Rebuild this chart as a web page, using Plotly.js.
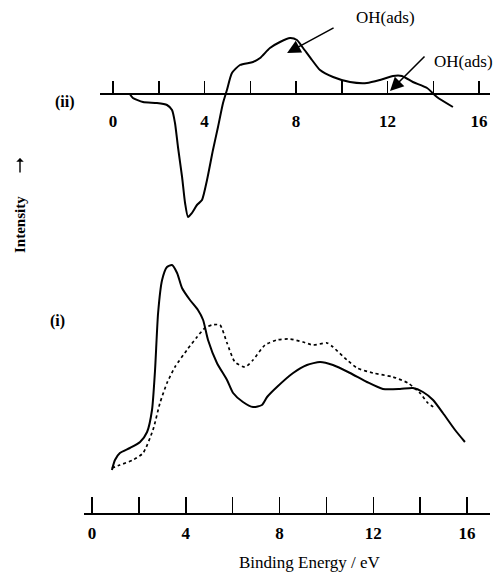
<!DOCTYPE html>
<html>
<head>
<meta charset="utf-8">
<script src="https://cdn.plot.ly/plotly-3.0.1.min.js"></script>
<style>html,body{margin:0;padding:0;background:#fff;}#chart{width:497px;height:577px;}</style>
</head>
<body>
<div id="chart"></div>
<script>
// Spectrum (ii): difference spectrum (binding energy eV, intensity arb. units)
const energyII = [0.74,0.87,1.31,1.92,2.36,2.58,2.71,2.84,3.02,3.15,3.28,3.45,3.67,3.89,4.11,4.37,4.59,4.81,4.98,5.20,5.55,6.12,6.43,6.86,7.30,7.74,8.04,8.31,8.70,9.05,9.62,10.36,11.10,11.67,12.24,12.63,13.11,13.73,14.16,14.86];
const intensityII = [-0.13,-0.5,-0.9,-1.0,-1.2,-1.7,-3.0,-5.4,-8.4,-11.0,-12.4,-12.0,-11.2,-10.7,-8.7,-5.7,-3.4,-1.0,0.3,2.0,2.8,3.1,3.5,4.5,5.1,5.5,5.3,4.5,3.3,2.3,1.6,1.1,1.0,1.3,1.7,1.7,1.1,0.5,-0.4,-1.4];

// Spectrum (i): solid curve
const energyISolid = [0.85,0.98,1.19,1.62,2.05,2.35,2.56,2.69,2.82,2.99,3.20,3.41,3.63,3.84,4.18,4.52,4.74,4.95,5.33,5.76,6.02,6.44,6.87,7.25,7.47,7.89,8.58,9.17,9.73,10.28,11.01,11.73,12.41,13.14,13.69,14.12,14.55,14.97,15.49,15.91];
const intensityISolid = [4.3,5.3,6.0,6.5,7.1,8.1,10.3,14.3,20.0,23.3,24.6,24.8,24.0,22.5,21.3,20.3,19.3,17.3,15.0,13.3,12.0,11.1,10.6,10.8,11.6,12.6,14.0,14.8,15.1,14.8,14.0,13.1,12.4,12.4,12.5,12.1,11.3,10.0,8.3,7.1];

// Spectrum (i): dotted curve
const energyIDotted = [0.85,1.19,1.75,2.18,2.60,2.90,3.20,3.54,4.05,4.48,4.82,5.12,5.46,5.76,6.10,6.53,6.87,7.38,7.89,8.45,9.00,9.43,10.03,10.28,10.88,11.31,11.99,12.84,13.48,13.99,14.33,14.63];
const intensityIDotted = [4.5,4.8,5.3,6.0,8.3,11.0,13.0,14.6,16.3,17.6,18.5,18.8,18.8,17.0,15.1,14.6,15.3,16.8,17.3,17.4,17.1,16.8,17.0,16.6,15.3,14.5,14.0,13.6,13.0,12.0,11.0,10.5];

const tickVals = [0,2,4,6,8,10,12,14,16];
const tickText = ['0','','4','','8','','12','','16'];

const W = 497, H = 577;
const py = p => 1 - p / H;
const px = p => p / W;
const serif = 'Liberation Serif, Times New Roman, serif';

const traces = [
  {x: energyII, y: intensityII, xaxis: 'x2', yaxis: 'y2', mode: 'lines',
   line: {color: '#000', width: 2, shape: 'spline', smoothing: 0.6}, hoverinfo: 'skip'},
  {x: energyISolid, y: intensityISolid, xaxis: 'x', yaxis: 'y', mode: 'lines',
   line: {color: '#000', width: 2, shape: 'spline', smoothing: 0.6}, hoverinfo: 'skip'},
  {x: energyIDotted, y: intensityIDotted, xaxis: 'x', yaxis: 'y', mode: 'lines',
   line: {color: '#000', width: 1.7, dash: 'dot', shape: 'spline', smoothing: 0.6}, hoverinfo: 'skip'}
];

const axisCommon = {
  tickvals: tickVals, ticktext: tickText, ticks: 'inside', tickwidth: 1.5, tickcolor: '#000',
  showline: true, linecolor: '#000', linewidth: 1.5, showgrid: false, zeroline: false,
  tickfont: {family: serif, size: 17, color: '#000', weight: 'bold'}, fixedrange: true
};

const txt = (x, y, text, size, extra) => Object.assign({
  xref: 'paper', yref: 'paper', x: px(x), y: py(y), text: text, showarrow: false,
  xanchor: 'center', yanchor: 'middle', font: {family: serif, size: size, color: '#000'}
}, extra || {});

const layout = {
  width: W, height: H, margin: {l: 0, r: 0, t: 0, b: 0},
  paper_bgcolor: '#fff', plot_bgcolor: 'rgba(0,0,0,0)', showlegend: false,
  xaxis: Object.assign({}, axisCommon, {
    domain: [px(84), px(490)], range: [(84 - 92) / 23.44, (490 - 92) / 23.44],
    anchor: 'free', position: py(513), ticklen: 16, ticklabelstandoff: 4
  }),
  yaxis: {domain: [py(513), py(250)], range: [0, (513 - 250) / 10], visible: false, anchor: 'x', fixedrange: true},
  xaxis2: Object.assign({}, axisCommon, {
    domain: [px(100), px(490)], range: [(100 - 113) / 22.875, (490 - 113) / 22.875],
    anchor: 'free', position: py(93), ticklen: 12, ticklabelstandoff: 12
  }),
  yaxis2: {domain: [py(225), py(28)], range: [(93 - 225) / 10, (93 - 28) / 10], visible: false, anchor: 'x2', fixedrange: true},
  annotations: [
    {xref: 'x2', yref: 'y2', x: 7.61, y: 4.0, ax: 48, ay: -26, text: '', showarrow: true,
     arrowhead: 2, arrowsize: 1.8, arrowwidth: 1.5, arrowcolor: '#000'},
    {xref: 'x2', yref: 'y2', x: 12.11, y: 0.2, ax: 36, ay: -36, text: '', showarrow: true,
     arrowhead: 2, arrowsize: 1.8, arrowwidth: 1.5, arrowcolor: '#000'},
    {xref: 'paper', yref: 'paper', x: px(20), y: py(158), ax: 0, ay: 16, text: '', showarrow: true,
     arrowhead: 1, arrowsize: 0.9, arrowwidth: 1.4, arrowcolor: '#000'},
    txt(385, 18, 'OH(ads)', 17),
    txt(463, 62, 'OH(ads)', 17),
    txt(65, 102, '<b>(ii)</b>', 16),
    txt(57, 321, '<b>(i)</b>', 16),
    txt(20, 225, '<b>Intensity</b>', 15, {textangle: -90}),
    txt(237, 562, 'Binding Energy / eV', 17, {xanchor: 'left'})
  ]
};

Plotly.newPlot('chart', traces, layout, {displayModeBar: false, staticPlot: true});
</script>
</body>
</html>
